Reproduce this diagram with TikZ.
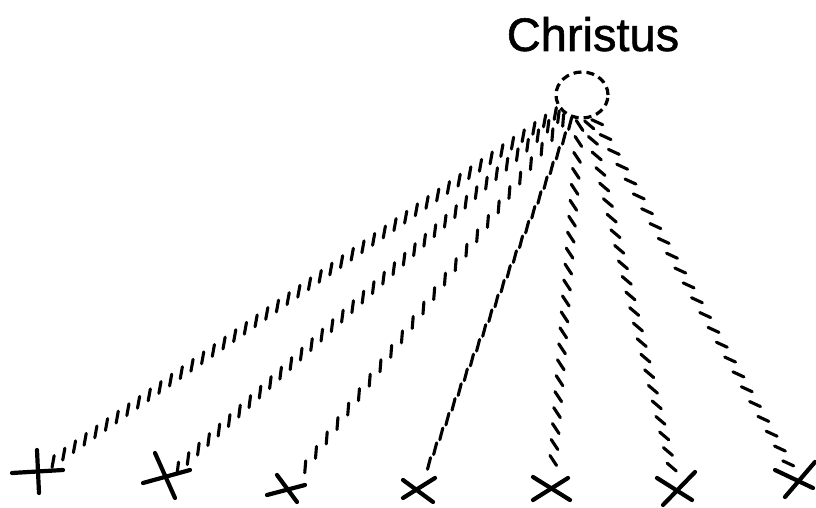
\documentclass[tikz,border=0pt]{standalone}
\usepackage{fontspec}
\setmainfont{Liberation Sans}
\newfontfamily\handfont{Liberation Sans}[FakeBold=1.2]
\usepackage{tikz}
\usetikzlibrary{decorations.markings, shapes.geometric}
\tikzset{
    crossline/.style={line width=4.2pt, line cap=round},
    hatched/.style n args={3}{
        decoration={markings,
            mark=between positions 6pt and #2 step #3 with {
                \draw[line width=3.1pt, line cap=round] (0,0) ++(#1:-6pt) -- ++(#1:12pt);
            }},
        decorate
    },
}

\begin{document}
\begin{tikzpicture}[x=1pt, y=1pt]
    \useasboundingbox (0,0) rectangle (816,508);

    \node[anchor=base, font=\handfont\fontsize{47}{50}\selectfont] (christ) at (593,457) {Christus};
    \node[draw, ellipse, minimum width=52pt, minimum height=46pt,
          line width=3.2pt, dash pattern=on 8pt off 5pt] (soul) at (582,413) {};

    % crosses
    \coordinate (x1) at (38,36);
    \coordinate (x2) at (167,30);
    \coordinate (x3) at (288,18);
    \coordinate (x4) at (418,18);
    \coordinate (x5) at (551,19);
    \coordinate (x6) at (677,19);
    \coordinate (x7) at (797,29);

    \draw[crossline] (x1) ++(-26,-1) -- ++(51,3);
    \draw[crossline] (x1) ++(-1,22) -- ++(2,-43);
    \draw[crossline] (x2) ++(-12,25) -- ++(20,-45);
    \draw[crossline] (x2) ++(-24,-5) -- ++(47,13);
    \draw[crossline] (x3) ++(-11,15) -- ++(20,-27);
    \draw[crossline] (x3) ++(-21,-5) -- ++(38,10);
    \draw[crossline] (x4) ++(-15,10) -- ++(30,-22);
    \draw[crossline] (x4) ++(-15,-8) -- ++(32,20);
    \draw[crossline] (x5) ++(-18,12) -- ++(37,-23);
    \draw[crossline] (x5) ++(-18,-11) -- ++(35,22);
    \draw[crossline] (x6) ++(-20,11) -- ++(35,-22);
    \draw[crossline] (x6) ++(-14,-16) -- ++(32,33);
    \draw[crossline] (x7) ++(-22,9) -- ++(38,-18);
    \draw[crossline] (x7) ++(-12,-18) -- ++(30,35);

    % rays
    \path[hatched={45}{-8pt}{13pt}] (soul) -- (x1);
    \path[hatched={40}{-14pt}{14pt}] (soul) -- (x2);
    \path[hatched={32}{-25pt}{18pt}] (soul) -- (x3);
    \path[hatched={8}{-22pt}{16pt}] (soul) -- (x4);
    \path[hatched={38}{-14pt}{16pt}] (soul) -- (x5);
    \path[hatched={36}{-16pt}{16pt}] (soul) -- (x6);
    \path[hatched={36}{-8pt}{17pt}] (soul) -- (x7);
\end{tikzpicture}
\end{document}
